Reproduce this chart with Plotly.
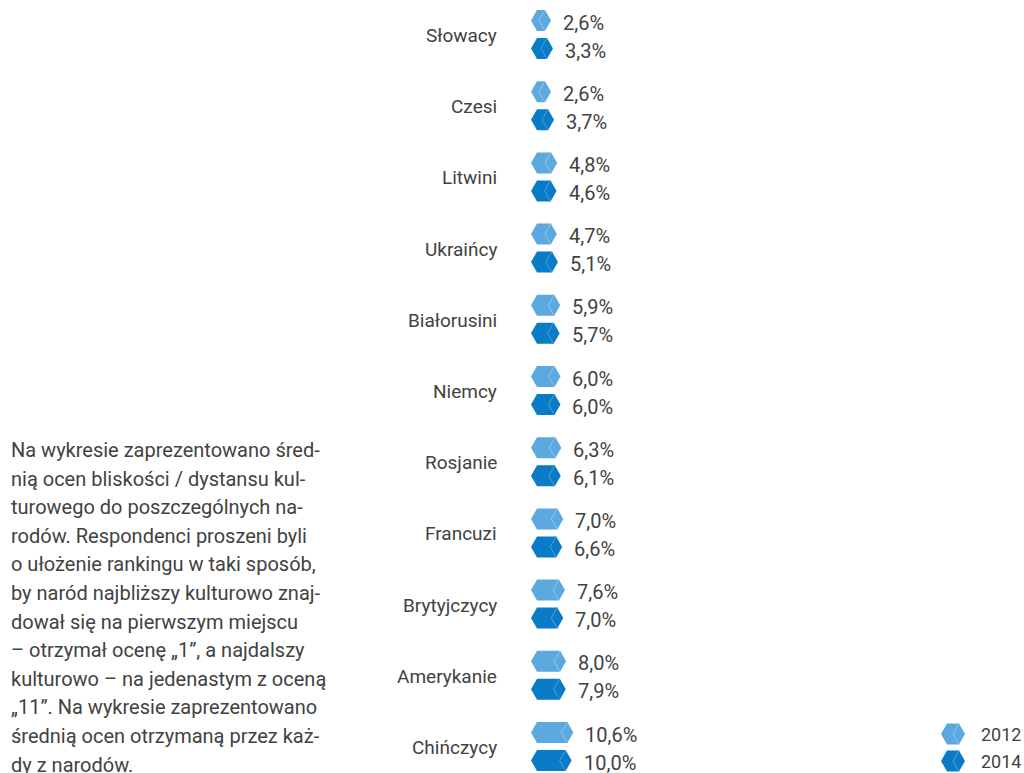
import plotly.graph_objects as go

# ---------------- data ----------------
categories = ["Słowacy", "Czesi", "Litwini", "Ukraińcy", "Białorusini", "Niemcy",
              "Rosjanie", "Francuzi", "Brytyjczycy", "Amerykanie", "Chińczycy"]
values_2012 = [2.6, 2.6, 4.8, 4.7, 5.9, 6.0, 6.3, 7.0, 7.6, 8.0, 10.6]
values_2014 = [3.3, 3.7, 4.6, 5.1, 5.7, 6.0, 6.1, 6.6, 7.0, 7.9, 10.0]
series_names = ["2012", "2014"]
note_lines = [
    "Na wykresie zaprezentowano śred-",
    "nią ocen bliskości / dystansu kul-",
    "turowego do poszczególnych na-",
    "rodów. Respondenci proszeni byli",
    "o ułożenie rankingu w taki sposób,",
    "by naród najbliższy kulturowo znaj-",
    "dował się na pierwszym miejscu",
    "– otrzymał ocenę „1”, a najdalszy",
    "kulturowo – na jedenastym z oceną",
    "„11”. Na wykresie zaprezentowano",
    "średnią ocen otrzymaną przez każ-",
    "dy z narodów.",
]

# ---------------- layout constants ----------------
W, H = 1024, 773
PX_PER_UNIT = 2.79
ZERO_PX = 543.75
ROW_PX = 71.2
FIRST_ROW_PX = 34.5
x_range = [-ZERO_PX / PX_PER_UNIT, (W - ZERO_PX) / PX_PER_UNIT]
y_range = [(H - FIRST_ROW_PX) / ROW_PX, -FIRST_ROW_PX / ROW_PX]

CAP = 6.0 / PX_PER_UNIT
LEFT = -12.75 / PX_PER_UNIT
HALF_H = 10.5 / ROW_PX
OFFSET = 14.0 / ROW_PX

colors = {"2012": "#5CA9DF", "2014": "#0A7CC7"}
chevron_colors = {"2012": "#8FC5EC", "2014": "#4C9FDA"}
TEXT_COLOR = "#424242"
FONT = "Roboto"


def hex_path(v, yc):
    xs = [LEFT, LEFT + CAP, v - CAP, v, v - CAP, LEFT + CAP, LEFT, None]
    ys = [yc, yc - HALF_H, yc - HALF_H, yc, yc + HALF_H, yc + HALF_H, yc, None]
    return xs, ys


def chevron_path(v, yc):
    xs = [v - CAP, v - 2 * CAP, v - CAP, None]
    ys = [yc - HALF_H, yc, yc + HALF_H, None]
    return xs, ys


fig = go.Figure()
annotations = []

for name, vals, sign in [("2012", values_2012, -1), ("2014", values_2014, 1)]:
    hx, hy, cx, cy = [], [], [], []
    for i, v in enumerate(vals):
        yc = i + sign * OFFSET
        a, b = hex_path(v, yc)
        hx += a
        hy += b
        a, b = chevron_path(v, yc)
        cx += a
        cy += b
        annotations.append(dict(
            x=v, y=yc, xref="x", yref="y", xanchor="left", yanchor="middle",
            xshift=10, yshift=-2, showarrow=False,
            text=f"{v:.1f}".replace(".", ",") + "%",
            font=dict(family=FONT, size=20, color=TEXT_COLOR)))
    fig.add_trace(go.Scatter(x=hx, y=hy, mode="lines", fill="toself",
                             fillcolor=colors[name], line=dict(width=0, color=colors[name]),
                             name=name, showlegend=False, hoverinfo="skip"))
    fig.add_trace(go.Scatter(x=cx, y=cy, mode="lines",
                             line=dict(width=1, color=chevron_colors[name]),
                             showlegend=False, hoverinfo="skip"))

# category labels
for i, c in enumerate(categories):
    annotations.append(dict(
        x=499 / W, y=i, xref="paper", yref="y", xanchor="right", yanchor="middle",
        yshift=-1, showarrow=False, text=c,
        font=dict(family=FONT, size=19, color=TEXT_COLOR)))

# paragraph
for k, line in enumerate(note_lines):
    annotations.append(dict(
        x=9 / W, y=1 - (450 + 28.6 * k) / H, xref="paper", yref="paper",
        xanchor="left", yanchor="middle", showarrow=False, text=line,
        font=dict(family=FONT, size=20, color=TEXT_COLOR)))

# legend (manual)
shapes = []
LEG_X0, LEG_X1, LEG_CAP, LEG_HH = 941, 965, 6, 10.5
for name, yc in zip(series_names, [734, 761]):
    pts = [(LEG_X0, yc), (LEG_X0 + LEG_CAP, yc - LEG_HH), (LEG_X1 - LEG_CAP, yc - LEG_HH),
           (LEG_X1, yc), (LEG_X1 - LEG_CAP, yc + LEG_HH), (LEG_X0 + LEG_CAP, yc + LEG_HH)]
    path = "M " + " L ".join(f"{px / W:.5f},{1 - py / H:.5f}" for px, py in pts) + " Z"
    shapes.append(dict(type="path", xref="paper", yref="paper", path=path,
                       fillcolor=colors[name], line=dict(width=0)))
    chev = [(LEG_X1 - LEG_CAP, yc - LEG_HH), (LEG_X1 - 2 * LEG_CAP, yc), (LEG_X1 - LEG_CAP, yc + LEG_HH)]
    cpath = "M " + " L ".join(f"{px / W:.5f},{1 - py / H:.5f}" for px, py in chev)
    shapes.append(dict(type="path", xref="paper", yref="paper", path=cpath,
                       line=dict(width=1, color=chevron_colors[name])))
    annotations.append(dict(
        x=979 / W, y=1 - yc / H, xref="paper", yref="paper", xanchor="left", yanchor="middle",
        showarrow=False, text=name, font=dict(family=FONT, size=18, color=TEXT_COLOR)))

fig.update_layout(
    width=W, height=H,
    margin=dict(l=0, r=0, t=0, b=0),
    paper_bgcolor="white", plot_bgcolor="white",
    xaxis=dict(range=x_range, visible=False, fixedrange=True),
    yaxis=dict(range=y_range, visible=False, fixedrange=True),
    annotations=annotations, shapes=shapes,
    showlegend=False,
)

fig.write_html("out.html", config={"displayModeBar": False},
               post_script="document.body.style.margin='0';document.body.style.overflow='hidden';")
